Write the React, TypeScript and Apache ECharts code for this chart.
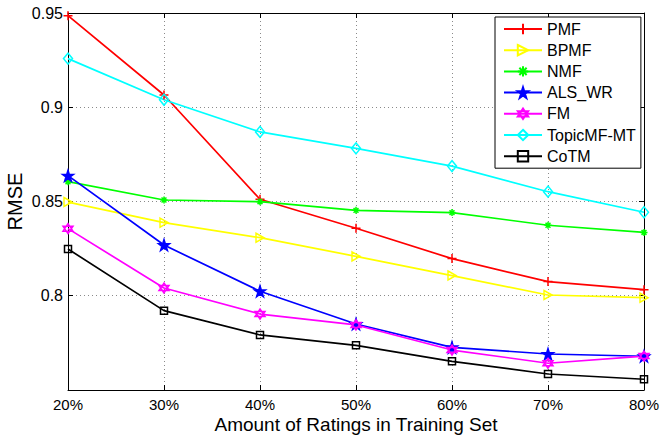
import React, { useEffect, useRef } from "react";
import * as echarts from "echarts";

const categories = ["20%", "30%", "40%", "50%", "60%", "70%", "80%"];
const pmf = [0.9486, 0.9065, 0.8512, 0.8358, 0.8197, 0.8075, 0.8032];
const bpmf = [0.8497, 0.8388, 0.8308, 0.8209, 0.8107, 0.8004, 0.799];
const nmf = [0.8605, 0.8508, 0.8499, 0.8453, 0.8441, 0.8374, 0.8336];
const alsWr = [0.8637, 0.8269, 0.8024, 0.785, 0.7726, 0.7691, 0.7679];
const fm = [0.8356, 0.8041, 0.7903, 0.7845, 0.7712, 0.7642, 0.768];
const topicMfMt = [0.9258, 0.904, 0.8869, 0.8782, 0.8688, 0.8552, 0.8443];
const cotm = [0.8248, 0.7921, 0.7792, 0.7737, 0.7652, 0.7585, 0.7557];
const yTicks = [0.75, 0.8, 0.85, 0.9, 0.95];

const FONT = "Liberation Sans";

const PLUS = "path://M5,0L5,10M0,5L10,5";
const TRI_RIGHT = "path://M0,0L10,5L0,10Z";
const ASTERISK = "path://M5,0L5,10M0,5L10,5M1.5,1.5L8.5,8.5M8.5,1.5L1.5,8.5";
const STAR =
  "path://M10,0L12.25,6.91L19.51,6.91L13.63,11.18L15.88,18.09L10,13.82L4.12,18.09L6.37,11.18L0.49,6.91L7.75,6.91Z";
const HEXAGRAM = "path://M10,0L18.66,15L1.34,15ZM10,20L1.34,5L18.66,5Z";

function mkSeries(
  name: string,
  data: number[],
  color: string,
  symbol: string,
  symbolSize: number | number[],
  filled: boolean
) {
  return {
    name,
    type: "line",
    data,
    symbol,
    symbolSize,
    showAllSymbol: true,
    lineStyle: { color, width: 1.7 },
    itemStyle: {
      color: filled ? color : "rgba(255,255,255,0)",
      borderColor: color,
      borderWidth: 1.5,
    },
    emphasis: { disabled: true },
  };
}

export default function App() {
  const ref = useRef<HTMLDivElement>(null);
  useEffect(() => {
    if (!ref.current) return;
    const chart = echarts.init(ref.current, undefined, { renderer: "svg" });
    const splitLine = {
      show: true,
      lineStyle: { color: "#8a8a8a", type: [1, 3] as any, width: 1 },
    };
    chart.setOption({
      animation: false,
      backgroundColor: "#fff",
      grid: {
        left: 68,
        right: 16,
        top: 13,
        bottom: 46,
        containLabel: false,
        outerBoundsMode: "none",
      },
      legend: {
        orient: "vertical",
        left: 495,
        top: 17,
        padding: [4, 5, 4, 8],
        itemWidth: 38,
        itemHeight: 13,
        itemGap: 5.2,
        backgroundColor: "#fff",
        borderColor: "#000",
        borderWidth: 1,
        textStyle: { fontFamily: FONT, fontSize: 16, color: "#000" },
        data: ["PMF", "BPMF", "NMF", "ALS_WR", "FM", "TopicMF-MT", "CoTM"],
      },
      xAxis: [
        {
          type: "category",
          data: categories,
          boundaryGap: false,
          position: "bottom",
          name: "Amount of Ratings in Training Set",
          nameLocation: "middle",
          nameGap: 25,
          nameMoveOverlap: false,
          nameTextStyle: { fontFamily: FONT, fontSize: 19, lineHeight: 18, color: "#000" },
          axisLine: { lineStyle: { color: "#000", width: 1 } },
          axisTick: { inside: true, length: 5, lineStyle: { color: "#000" } },
          axisLabel: { fontFamily: FONT, fontSize: 15, lineHeight: 14, color: "#000", margin: 7 },
          splitLine,
        },
        {
          type: "category",
          data: categories,
          boundaryGap: false,
          position: "top",
          axisLine: { lineStyle: { color: "#000", width: 1 } },
          axisTick: { inside: true, length: 5, lineStyle: { color: "#000" } },
          axisLabel: { show: false },
          splitLine: { show: false },
        },
      ],
      yAxis: [
        {
          type: "value",
          min: yTicks[0],
          max: yTicks[yTicks.length - 1],
          interval: 0.05,
          name: "RMSE",
          nameLocation: "middle",
          nameGap: 44,
          nameMoveOverlap: false,
          nameTextStyle: { fontFamily: FONT, fontSize: 20, lineHeight: 18, color: "#000" },
          axisLine: { show: true, lineStyle: { color: "#000", width: 1 } },
          axisTick: { show: true, inside: true, length: 5, lineStyle: { color: "#000" } },
          axisLabel: {
            fontFamily: FONT,
            fontSize: 16,
            color: "#000",
            margin: 5,
            showMinLabel: false,
            formatter: (v: number) => (v < 0.76 ? "" : String(+v.toFixed(2))),
          },
          splitLine,
        },
        {
          type: "value",
          min: yTicks[0],
          max: yTicks[yTicks.length - 1],
          interval: 0.05,
          position: "right",
          axisLine: { show: true, lineStyle: { color: "#000", width: 1 } },
          axisTick: { show: true, inside: true, length: 5, lineStyle: { color: "#000" } },
          axisLabel: { show: false },
          splitLine: { show: false },
        },
      ],
      series: [
        mkSeries("PMF", pmf, "#ff0000", PLUS, 9, false),
        mkSeries("BPMF", bpmf, "#ffff00", TRI_RIGHT, [8, 9], false),
        mkSeries("NMF", nmf, "#00ff00", ASTERISK, 7, true),
        mkSeries("ALS_WR", alsWr, "#0000ff", STAR, 11, true),
        mkSeries("FM", fm, "#ff00ff", HEXAGRAM, 10, false),
        mkSeries("TopicMF-MT", topicMfMt, "#00ffff", "diamond", [9, 11], false),
        mkSeries("CoTM", cotm, "#000000", "rect", 7, false),
      ],
    });
    return () => chart.dispose();
  }, []);
  return <div ref={ref} style={{ width: 660, height: 436, position: "absolute", left: 0, top: 0 }} />;
}
